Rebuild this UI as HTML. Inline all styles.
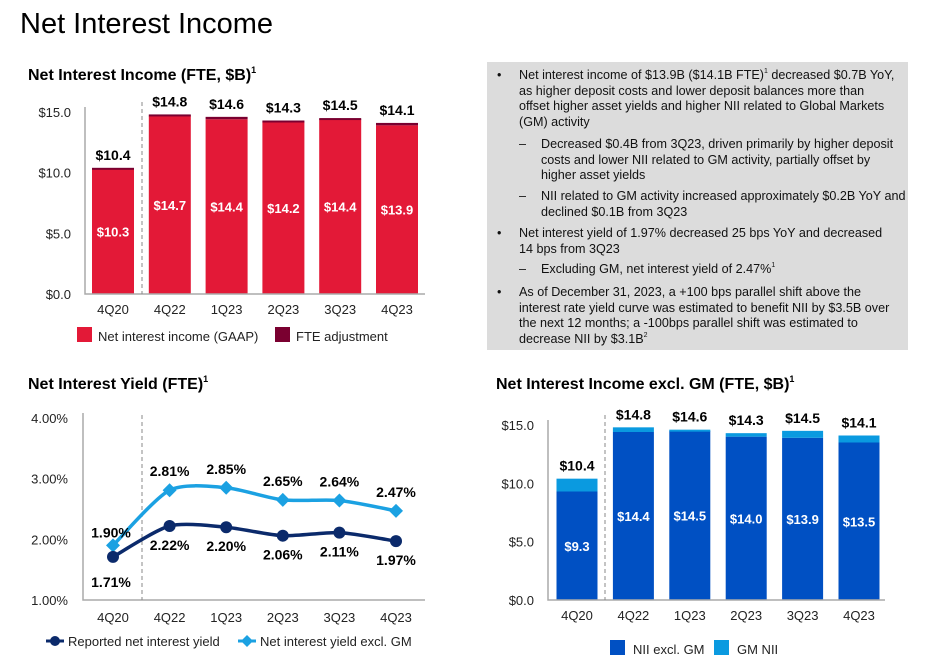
<!DOCTYPE html>
<html><head><meta charset="utf-8">
<style>
body{margin:0;width:930px;height:657px;background:#fff;font-family:"Liberation Sans",sans-serif;overflow:hidden;position:relative}
#title{position:absolute;left:20px;top:8px;font-size:29px;color:#000}
#box{position:absolute;left:487px;top:62px;width:421px;height:288px;background:#dcdcdc}
#box ul{margin:0;padding:0;list-style:none;font-size:12.6px;line-height:15.7px;color:#111}
#box li{position:absolute;left:0;white-space:nowrap}
sup{font-size:7px;vertical-align:top;line-height:8px}
svg{position:absolute;left:0;top:0}
</style></head><body>
<div id="title">Net Interest Income</div>
<div id="box">
<ul>
<li style="top:6px;left:10px"><span style="position:absolute;left:0">•</span><div style="margin-left:22px">Net interest income of $13.9B ($14.1B FTE)<sup>1</sup> decreased $0.7B YoY,<br>as higher deposit costs and lower deposit balances more than<br>offset higher asset yields and higher NII related to Global Markets<br>(GM) activity</div></li>
<li style="top:75px;left:32px"><span style="position:absolute;left:0">–</span><div style="margin-left:22px">Decreased $0.4B from 3Q23, driven primarily by higher deposit<br>costs and lower NII related to GM activity, partially offset by<br>higher asset yields</div></li>
<li style="top:127px;left:32px"><span style="position:absolute;left:0">–</span><div style="margin-left:22px">NII related to GM activity increased approximately $0.2B YoY and<br>declined $0.1B from 3Q23</div></li>
<li style="top:164px;left:10px"><span style="position:absolute;left:0">•</span><div style="margin-left:22px">Net interest yield of 1.97% decreased 25 bps YoY and decreased<br>14 bps from 3Q23</div></li>
<li style="top:200px;left:32px"><span style="position:absolute;left:0">–</span><div style="margin-left:22px">Excluding GM, net interest yield of 2.47%<sup>1</sup></div></li>
<li style="top:223px;left:10px"><span style="position:absolute;left:0">•</span><div style="margin-left:22px">As of December 31, 2023, a +100 bps parallel shift above the<br>interest rate yield curve was estimated to benefit NII by $3.5B over<br>the next 12 months; a -100bps parallel shift was estimated to<br>decrease NII by $3.1B<sup>2</sup></div></li>
</ul></div>
<svg id="svg" width="930" height="657" xmlns="http://www.w3.org/2000/svg" font-family="Liberation Sans, sans-serif"></svg>
<script>
const categories=["4Q20","4Q22","1Q23","2Q23","3Q23","4Q23"];
const niiGaap=[10.3,14.7,14.4,14.2,14.4,13.9];
const niiTotal=[10.4,14.8,14.6,14.3,14.5,14.1];
const niiTotalLabels=["$10.4","$14.8","$14.6","$14.3","$14.5","$14.1"];
const niiGaapLabels=["$10.3","$14.7","$14.4","$14.2","$14.4","$13.9"];
const niiExGm=[9.3,14.4,14.5,14.0,13.9,13.5];
const niiExGmLabels=["$9.3","$14.4","$14.5","$14.0","$13.9","$13.5"];
const yieldReported=[1.71,2.22,2.20,2.06,2.11,1.97];
const yieldExGm=[1.90,2.81,2.85,2.65,2.64,2.47];
const bTicks=[0,5,10,15];
const bTickLabels=["$0.0","$5.0","$10.0","$15.0"];
const yTicks=[1,2,3,4];
const yTickLabels=["1.00%","2.00%","3.00%","4.00%"];

const svg=document.getElementById('svg');
const NS="http://www.w3.org/2000/svg";
function mk(tag,attrs,parent){const e=document.createElementNS(NS,tag);for(const k in attrs)e.setAttribute(k,attrs[k]);(parent||svg).appendChild(e);return e;}
function txt(x,y,s,attrs,parent){const e=mk('text',Object.assign({x:x,y:y},attrs),parent);e.textContent=s;return e;}

function title(x,y,s,name){const t=txt(x,y,s,{'font-size':16,'font-weight':'bold',fill:'#000'});
 const sp=document.createElementNS(NS,'tspan');sp.setAttribute('font-size',9);sp.setAttribute('dy',-7);sp.textContent='1';t.appendChild(sp);}

function barChart(o){
 const g=mk('g',{});
 const ys=v=>o.y0-(v/15)*(o.y0-o.y15);
 const xs=i=>o.x0+o.first+i*o.step;
 bTicks.forEach((t,i)=>{const l=txt(o.x0-14,ys(t)+5,bTickLabels[i],{'font-size':13,'text-anchor':'end',fill:'#222'},g);});
 categories.forEach((c,i)=>{
  const x=xs(i),bw=o.bw;
  const lo=o.lower[i],tot=niiTotal[i];
  const r1=mk('rect',{x:x-bw/2,y:ys(lo),width:bw,height:ys(0)-ys(lo),fill:o.c1},g);
  
  const r2=mk('rect',{x:x-bw/2,y:ys(tot),width:bw,height:Math.max(ys(lo)-ys(tot),2),fill:o.c2},g);
  
  const tl=txt(x,ys(tot)-8,niiTotalLabels[i],{'font-size':14,'font-weight':'bold','text-anchor':'middle',fill:'#000'},g);
  
  const il=txt(x,ys(lo/2)+5,o.inLabels[i],{'font-size':13,'font-weight':'bold','text-anchor':'middle',fill:'#fff'},g);
  
  const xl=txt(x,ys(0)+20,c,{'font-size':13,'text-anchor':'middle',fill:'#222'},g);
  
 });
 const ax=mk('path',{d:`M${o.x0} ${o.y15-5}V${o.y0}H${o.x1}`,stroke:'#aaa','stroke-width':1.5,fill:'none'},g);
 
 const d=mk('line',{x1:o.dash,x2:o.dash,y1:o.y15-10,y2:o.y0,stroke:'#888','stroke-dasharray':'4,3'},g);
 
}

title(28,80,"Net Interest Income (FTE, $B)","chart1-title");
barChart({name:'nii-chart',x0:85,x1:425,y0:294,y15:112,first:28,step:56.8,bw:42,lower:niiGaap,c1:'#e31937',c2:'#7a0030',key1:'gaap',key2:'fte',inLabels:niiGaapLabels,dash:142});
[[77,'#e31937','Net interest income (GAAP)','legend-gaap'],[275,'#7a0030','FTE adjustment','legend-fte']].forEach(a=>{
 const g=mk('g',{});
 mk('rect',{x:a[0],y:327,width:15,height:15,fill:a[1]},g);txt(a[0]+21,341,a[2],{'font-size':13,fill:'#222'},g);});

title(496,389,"Net Interest Income excl. GM (FTE, $B)","chart3-title");
barChart({name:'nii-excl-gm-chart',x0:548,x1:885,y0:600,y15:425,first:29,step:56.4,bw:41,lower:niiExGm,c1:'#0050c3',c2:'#0a9ae0',key1:'excl-gm',key2:'gm',inLabels:niiExGmLabels,dash:605});
[[610,'#0050c3','NII excl. GM','legend-nii-excl-gm'],[714,'#0a9ae0','GM NII','legend-gm-nii']].forEach(a=>{
 const g=mk('g',{});
 mk('rect',{x:a[0],y:640,width:15,height:15,fill:a[1]},g);txt(a[0]+23,654,a[2],{'font-size':13,fill:'#222'},g);});

title(28,389,"Net Interest Yield (FTE)","chart2-title");
(function(){
 const g=mk('g',{});
 const x0=83,x1=425,y1=600,y4=418;
 const ys=v=>y1-(v-1)/3*(y1-y4);
 const xs=i=>113+i*56.6;
 yTicks.forEach((t,i)=>{const l=txt(68,ys(t)+5,yTickLabels[i],{'font-size':13,'text-anchor':'end',fill:'#222'},g);});
 categories.forEach((c,i)=>{const l=txt(xs(i),ys(1)+22,c,{'font-size':13,'text-anchor':'middle',fill:'#222'},g);});
 const ax=mk('path',{d:`M${x0} ${y4-5}V${y1}H${x1}`,stroke:'#aaa','stroke-width':1.5,fill:'none'},g);
 
 const dl=mk('line',{x1:142,x2:142,y1:y4-3,y2:y1,stroke:'#888','stroke-dasharray':'4,3'},g);
 
 function smooth(pts){let d=`M${pts[0][0]} ${pts[0][1]}`;for(let i=0;i<pts.length-1;i++){const p0=pts[i-1]||pts[i],p1=pts[i],p2=pts[i+1],p3=pts[i+2]||p2;
  d+=`C${p1[0]+(p2[0]-p0[0])/8} ${p1[1]+(p2[1]-p0[1])/8} ${p2[0]-(p3[0]-p1[0])/8} ${p2[1]-(p3[1]-p1[1])/8} ${p2[0]} ${p2[1]}`;}return d;}
 function series(vals,color,name,marker,labelOff){
  const sg=mk('g',{},g);
  const pts=vals.map((v,i)=>[xs(i),ys(v)]);
  mk('path',{d:smooth(pts),stroke:color,'stroke-width':3.5,fill:'none'},sg);
  pts.forEach((p,i)=>{
   let m;
   if(marker=='circle')m=mk('circle',{cx:p[0],cy:p[1],r:6,fill:color},sg);
   else m=mk('path',{d:`M${p[0]} ${p[1]-7}L${p[0]+7} ${p[1]}L${p[0]} ${p[1]+7}L${p[0]-7} ${p[1]}Z`,fill:color},sg);
   
   const off=labelOff(i);
   const l=txt(p[0]+off[0],p[1]+off[1],vals[i].toFixed(2)+'%',{'font-size':14,'font-weight':'bold','text-anchor':'middle',fill:'#000'},sg);
   
  });
 }
 series(yieldExGm,'#1ba1e2','yield-excl-gm','diamond',i=>i==0?[-2,-8]:[0,-14]);
 series(yieldReported,'#0b2a6b','reported-yield','circle',i=>i==0?[-2,30]:[0,24]);
 const lg=mk('g',{},g);
 mk('line',{x1:46,x2:64,y1:641,y2:641,stroke:'#0b2a6b','stroke-width':3},lg);mk('circle',{cx:55,cy:641,r:5,fill:'#0b2a6b'},lg);
 txt(68,646,'Reported net interest yield',{'font-size':13,fill:'#222'},lg);
 const lg2=mk('g',{},g);
 mk('line',{x1:238,x2:256,y1:641,y2:641,stroke:'#1ba1e2','stroke-width':3},lg2);mk('path',{d:'M247 635L253 641L247 647L241 641Z',fill:'#1ba1e2'},lg2);
 txt(260,646,'Net interest yield excl. GM',{'font-size':13,fill:'#222'},lg2);
})();
</script>
</body></html>
